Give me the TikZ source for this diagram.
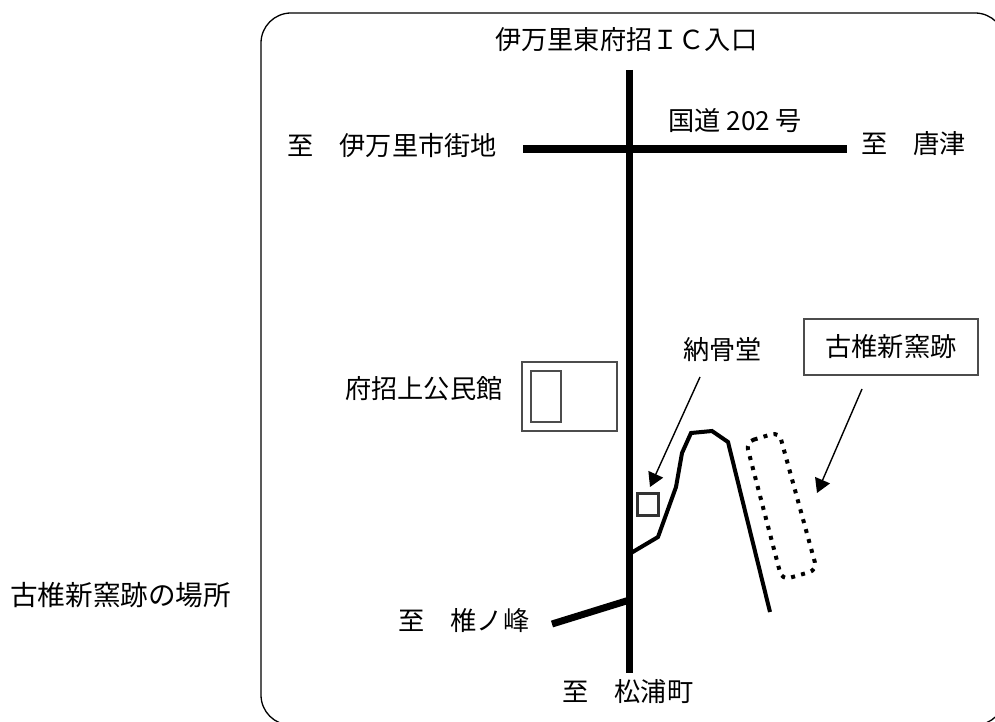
\documentclass[tikz,border=0pt]{standalone}
\usepackage{fontspec}
\newfontfamily\jpfont{Noto Sans CJK JP}
\usetikzlibrary{arrows.meta}
\tikzset{
  lbl/.style={font=\jpfont\fontsize{26.2}{28}\selectfont,inner sep=0pt,anchor=west,text height=23pt,text depth=3pt,text=black},
  road/.style={draw=black,line width=7.5pt},
  lane/.style={draw=black,line width=4pt,line join=miter},
  thinbox/.style={draw=black!70,line width=1.4pt,inner sep=0pt,minimum width=0pt},
  pointer/.style={draw=black,line width=1.4pt,-{Triangle[length=14pt,width=16pt]}},
}
\begin{document}
\begin{tikzpicture}[x=1pt,y=-1pt]
\useasboundingbox (0,0) rectangle (995,722);
\begin{scope}
\clip (0,0) rectangle (995,722);
\fill[white] (0,0) rectangle (995,722);
\draw[black,line width=1.3pt,rounded corners=30pt] (261,13) rectangle (1005,725);
\end{scope}
% text
\node[lbl] (top) at (495,40) {伊万里東府招ＩＣ入口};
\node[lbl] (west) at (287,146) {至　伊万里市街地};
\node[lbl] (route) at (668,121) {国道 202 号};
\node[lbl] (east) at (861,144) {至　唐津};
\node[lbl] (hall) at (345,388) {府招上公民館};
\node[lbl] (ossuary) at (683,349) {納骨堂};
\node[lbl] (shii) at (398,620) {至　椎ノ峰};
\node[lbl] (matsu) at (562,691) {至　松浦町};
\node[lbl,font=\jpfont\fontsize{27.6}{29}\selectfont] (caption) at (10,595) {古椎新窯跡の場所};
% boxes
\node[thinbox,minimum width=95pt,minimum height=69pt] (hallbox) at (569.5,396.5) {};
\node[thinbox,minimum width=30pt,minimum height=51pt] (hallin) at (546,396.5) {};
\node[thinbox,minimum width=174pt,minimum height=56pt,font=\jpfont\fontsize{26.2}{28}\selectfont,text=black] (kiln) at (891,347) {古椎新窯跡};
\node[draw=black!80,line width=2.2pt,minimum width=21pt,minimum height=22pt,inner sep=0pt] (square) at (648,504.5) {};
% roads
\coordinate (nS) at (629.5,70);
\coordinate (sS) at (629.5,673);
\coordinate (wE) at (523,149);
\coordinate (eE) at (847,149);
\coordinate (rW) at (552,624);
\coordinate (rE) at (629.5,600);
\draw[road] (nS) -- (sS);
\draw[road] (wE) -- (eE);
\draw[road,line width=7pt] (rW) -- (rE);
\coordinate (l0) at (631,553);
\coordinate (l1) at (658,537);
\coordinate (l2) at (676,487);
\coordinate (l3) at (682,453);
\coordinate (l4) at (691,433);
\coordinate (l5) at (712,431);
\coordinate (l6) at (728,442);
\coordinate (l7) at (770,612);
\draw[lane] (l0) -- (l1) -- (l2) -- (l3) -- (l4) -- (l5) -- (l6) -- (l7);
% dotted area
\coordinate (d0) at (746,442);
\coordinate (d1) at (779,432);
\coordinate (d2) at (817,570);
\coordinate (d3) at (782,580);
\draw[line width=4pt,dash pattern=on 4pt off 6.3pt,rounded corners=8pt] (d0) -- (d1) -- (d2) -- (d3) -- cycle;
% arrows
\coordinate (a1s) at (700,377);
\coordinate (a1e) at (650,487);
\coordinate (a2s) at (862,389);
\coordinate (a2e) at (817,493);
\draw[pointer] (a1s) -- (a1e);
\draw[pointer] (a2s) -- (a2e);
\end{tikzpicture}
\end{document}
